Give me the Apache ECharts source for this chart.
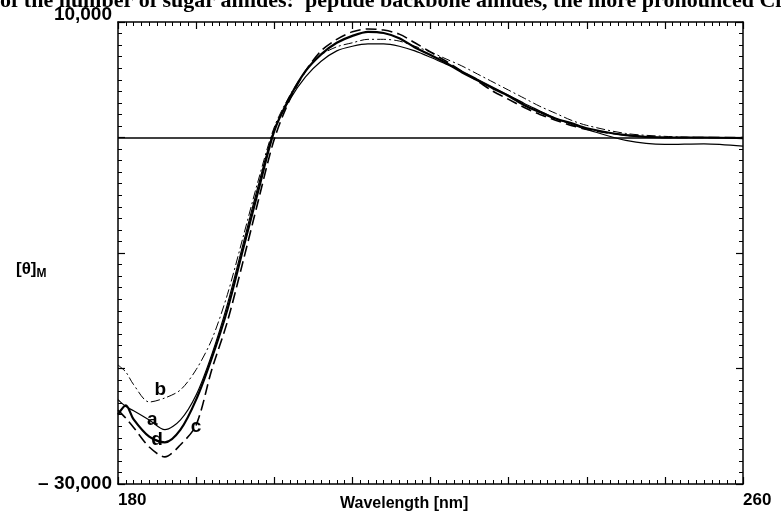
<!DOCTYPE html>
<html><head><meta charset="utf-8">
<script src="https://cdn.jsdelivr.net/npm/echarts@6/dist/echarts.min.js"></script>
<style>html,body{margin:0;padding:0;background:#fff}#c{width:783px;height:516px}</style>
</head><body><div id="c"></div>
<script>
const wavelengths = [180,181,182,184,186,188,190,192,194,196,198,200,202,204,206,208,210,212,214,216,218,220,222,224,226,228,230,232,234,236,238,240,245,250,255,260];
const curveA = [-22700,-23300,-23650,-24450,-25300,-24450,-22300,-18800,-14450,-9250,-4050,700,3300,5250,6600,7500,7900,8100,8100,7900,7500,6950,6350,5750,5050,4350,3650,2950,2300,1650,1150,700,-250,-600,-550,-750];
const curveB = [-19700,-20300,-21400,-22900,-22550,-21850,-20100,-17500,-13600,-8650,-3600,900,3650,5750,7150,7850,8200,8500,8500,8350,7900,7400,6800,6200,5500,4800,4100,3400,2700,2100,1500,1050,350,100,0,0];
const curveC = [-23600,-24300,-25100,-26800,-27650,-26600,-24900,-20100,-15950,-10750,-5350,-150,3300,5750,7500,8500,9150,9400,9300,8950,8200,7400,6600,5750,4900,4000,3300,2600,2000,1500,1050,700,200,0,0,0];
const curveD = [-24000,-23200,-24400,-25900,-26400,-25300,-22700,-19100,-14900,-9700,-4500,550,3500,5750,7200,8200,8800,9150,9050,8600,7800,7150,6450,5650,4950,4250,3600,2800,2200,1650,1250,800,200,0,0,-50];
const curveLabels = ['a','b','c','d'];
const labelWavelengths = [184.4,185.4,190.0,185.0];
const labelValues = [-24450,-21850,-25050,-26200];
const xTickLabels = {180:'180',260:'260'};
const yTickLabels = {'10000':'{top|10,000}','-30000':'– 30,000'};

const chart = echarts.init(document.getElementById('c'), null, {renderer:'canvas'});
const pairs = v => wavelengths.map((w,i)=>[w,v[i]]);
const lineSeries = (name, vals, type, width) => ({
  name, type:'line', data:pairs(vals), smooth:0.3, symbol:'none', silent:true,
  lineStyle:{color:'#000', width, type}, z:3
});
const axisCommon = () => ({
  axisLine:{show:true,onZero:false,lineStyle:{color:'#000',width:1.5}},
  axisTick:{show:true,inside:true,length:7,lineStyle:{color:'#000',width:1.2}},
  minorTick:{show:true,splitNumber:10,length:4,lineStyle:{color:'#000',width:1}},
  splitLine:{show:false}
});
const font = '"Liberation Sans", Arial, sans-serif';
const narrow = '"Liberation Sans Narrow", "Liberation Sans", Arial, sans-serif';
chart.setOption({
  animation:false,
  backgroundColor:'#fff',
  grid:{left:118,right:40,top:22,bottom:32},
  xAxis:[
    Object.assign({type:'value',min:180,max:260,interval:10,position:'bottom',
      axisLabel:{show:true,formatter:v=>xTickLabels[v]||'',align:'left',margin:8,color:'#000',fontSize:17,fontWeight:'bold',fontFamily:font}},axisCommon()),
    Object.assign({type:'value',min:180,max:260,interval:10,position:'top',axisLabel:{show:false}},axisCommon())
  ],
  yAxis:[
    Object.assign({type:'value',min:-30000,max:10000,interval:10000,position:'left',
      axisLabel:{show:true,formatter:v=>yTickLabels[String(v)]||'',margin:6,color:'#000',fontSize:19,fontWeight:'bold',fontFamily:narrow,
        rich:{top:{fontSize:19,fontWeight:'bold',fontFamily:narrow,color:'#000',padding:[0,0,14,0]}}}},axisCommon()),
    Object.assign({type:'value',min:-30000,max:10000,interval:10000,position:'right',axisLabel:{show:false}},axisCommon())
  ],
  series:[
    Object.assign(lineSeries('a',curveA,'solid',1.2),{
      markLine:{silent:true,symbol:'none',label:{show:false},lineStyle:{color:'#000',width:1.5,type:'solid'},data:[{yAxis:0}]}
    }),
    lineSeries('b',curveB,[9,3,2,3],1),
    lineSeries('c',curveC,[11,5],1.6),
    lineSeries('d',curveD,'solid',2.2),
    {type:'scatter',symbolSize:0,silent:true,z:5,
      data:curveLabels.map((t,i)=>[labelWavelengths[i],labelValues[i],t]),
      label:{show:true,position:'inside',formatter:p=>p.value[2],color:'#000',fontSize:19,fontWeight:'bold',fontFamily:font,
        textBorderWidth:0,opacity:1}}
  ],
  graphic:[
    {type:'text',left:0,top:-10,style:{text:'of the number of sugar amides:  peptide backbone amides, the more pronounced Cl',
      font:'bold 22px "Liberation Serif", "Times New Roman", serif',fill:'#000'}},
    {type:'text',left:340,top:496,style:{text:'Wavelength [nm]',font:'bold 16px '+font,fill:'#000'}},
    {type:'text',left:16,top:261,style:{rich:{t:{fontSize:17,fontFamily:font,fill:'#000',fontWeight:'bold'},s:{fontSize:12,fontFamily:font,fill:'#000',fontWeight:'bold',padding:[8,0,0,0]}},
      text:'{t|[θ]}{s|M}'}}
  ]
});
</script></body></html>
